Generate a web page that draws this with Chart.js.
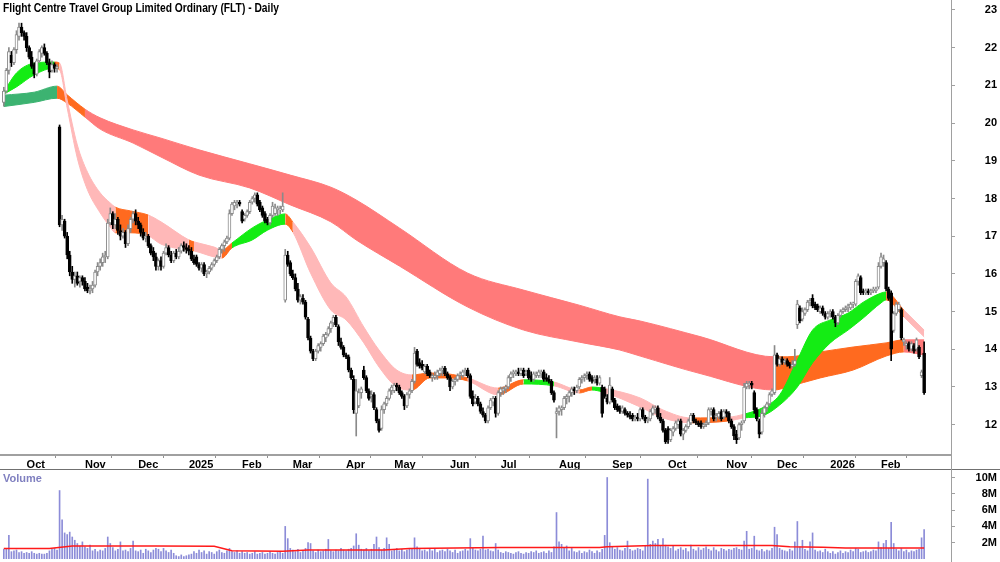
<!DOCTYPE html>
<html>
<head>
<meta charset="utf-8">
<script src="https://cdn.jsdelivr.net/npm/chart.js@4.4.1/dist/chart.umd.min.js"></script>
<style>
  body { margin: 0; background: #fff; width: 1000px; height: 562px; overflow: hidden; position: relative; font-family: "Liberation Sans", Arial, sans-serif; }
  #pwrap { position: absolute; left: 0; top: 0; width: 1000px; height: 470px; }
  #vwrap { position: absolute; left: 0; top: 470px; width: 1000px; height: 92px; }
  #title { position: absolute; left: 3px; top: 0px; font-weight: bold; font-size: 13px; color: #000; white-space: nowrap; transform: scaleX(0.79); transform-origin: 0 0; z-index: 2; }
  #vlab { position: absolute; left: 3px; top: 472px; font-weight: bold; font-size: 11px; color: #8080c0; z-index: 2; }
  #sep { position: absolute; left: 0; top: 469px; width: 1000px; height: 1px; background: #707070; }
  #vline { position: absolute; left: 951px; top: 0; width: 1px; height: 562px; background: #a0a0a0; }
</style>
</head>
<body>
<div id="pwrap"><canvas id="pc" width="1000" height="470"></canvas></div>
<div id="vwrap"><canvas id="vc" width="1000" height="92"></canvas></div>
<div id="sep"></div>
<div id="vline"></div>
<div id="title">Flight Centre Travel Group Limited Ordinary (FLT) - Daily</div>
<div id="vlab">Volume</div>
<script>
// daily candles, Sep 2024 .. Feb 2026 (index 0 = first trading day shown)
const open = [
  20.55, 20.85, 21.4, 21.8, 21.6, 21.95, 22.3, 22.55, 22.4,
  22.3, 22.0, 21.75, 21.55, 21.3, 21.65, 21.85, 22.0, 21.85, 21.6, 21.4, 21.55, 21.45, 19.9, 17.3, 17.4, 17.0, 16.5, 16.05, 15.85, 15.95, 15.8, 15.9,
  15.8, 15.65, 15.55, 15.6, 15.7, 16.05, 16.2, 16.3, 16.45, 16.45, 17.35, 17.6, 17.3, 17.45, 17.15, 17.0, 17.1, 16.8, 17.2, 17.45, 17.6,
  17.4, 17.3, 17.1, 16.95, 17.0, 16.75, 16.6, 16.45, 16.2, 16.35, 16.2, 16.55, 16.7, 16.5, 16.35, 16.55, 16.45, 16.6, 16.75, 16.7,
  16.65, 16.6, 16.4, 16.45, 16.25, 16.15, 16.25, 16.0, 16.05, 16.15, 16.25, 16.35, 16.45, 16.65, 16.75, 16.85, 16.95, 17.6, 17.8, 17.85, 17.9,
  17.65, 17.45, 17.55, 17.65, 17.9, 18.0, 18.1, 17.9, 17.75, 17.6, 17.45, 17.35, 17.55, 17.6, 17.7, 17.7, 17.7, 15.3, 16.5, 16.3,
  16.0, 15.9, 15.6, 15.3, 15.35, 15.25, 14.8, 14.3, 13.95, 13.75, 13.95, 14.05, 14.15, 14.3, 14.4, 14.55, 14.7, 14.85, 14.6, 14.2, 14.05,
  13.85, 13.8, 13.45, 13.2, 12.3, 12.5, 12.85, 13.45, 13.25, 12.9, 12.75, 12.8, 12.4, 12.1, 11.9, 12.4, 12.55, 12.7, 12.9,
  12.9, 13.05, 13.0, 12.85, 12.75, 12.5, 12.8, 12.9, 13.15, 13.95, 13.65, 13.6, 13.4, 13.55, 13.4, 13.25, 13.25, 13.3, 13.35, 13.45, 13.5, 13.35,
  13.25, 13.0, 13.15, 13.2, 13.3, 13.3, 13.4, 13.45, 13.3, 12.75, 12.6, 12.7, 12.55, 12.35, 12.25, 12.1, 12.45, 12.6, 12.7, 12.3,
  12.85, 12.9, 12.95, 13.0, 13.25, 13.35, 13.35, 13.4, 13.35, 13.45, 13.35, 13.45, 13.3, 13.2, 13.3, 13.3, 13.35, 13.4, 13.25, 13.2, 13.15, 12.85, 12.3,
  12.35, 12.4, 12.45, 12.7, 12.75, 12.85, 12.95, 12.9, 13.0, 13.2, 13.25, 13.3, 13.35, 13.25, 13.2, 13.2, 13.1, 13.0, 12.95, 12.7, 12.6,
  12.95, 12.65, 12.5, 12.45, 12.35, 12.4, 12.3, 12.25, 12.25, 12.15, 12.2, 12.15, 12.4, 12.2, 12.1, 12.15, 12.3, 12.4, 12.45, 12.2, 12.1, 11.85,
  11.9, 11.6, 11.8, 11.9, 12.0, 12.1, 11.75, 11.85, 11.95, 12.05, 12.25, 12.1, 12.05, 12.05, 11.95, 12.0, 12.05, 12.35, 12.4, 12.2, 12.2, 12.35, 12.2,
  12.35, 12.3, 12.1, 11.95, 11.75, 11.65, 12.0, 12.1, 13.0, 13.05, 13.1, 12.85, 12.4, 12.1, 11.8, 12.3, 12.45, 12.55, 12.8, 12.85,
  13.85, 13.6, 13.75, 13.65, 13.7, 13.6, 13.55, 13.6, 14.65, 15.1, 14.8, 14.95, 15.05, 15.25, 15.35, 15.2, 15.15, 15.0, 15.1, 14.95, 14.85,
  14.95, 15.0, 14.85, 14.7, 14.9, 15.0, 15.05, 15.1, 15.1, 15.2, 15.2, 15.8, 15.9, 15.55, 15.5, 15.55, 15.5, 15.55, 15.55, 15.65,
  16.2, 16.3, 16.3, 15.6, 15.5, 14.5, 14.95, 15.05, 15.05, 14.2, 14.1, 14.15, 14.0, 14.1, 14.0, 14.05, 13.3, 13.9
];
const high = [
  20.95, 21.45, 22.0, 21.9, 22.0, 22.45, 22.65, 22.65, 22.45,
  22.4, 22.05, 21.9, 21.6, 21.7, 21.95, 22.05, 22.1, 21.9, 21.7, 21.65, 21.6, 21.55, 19.95, 17.55, 17.45, 17.1, 16.6, 16.2, 16.05, 16.05, 15.95, 15.95,
  15.9, 15.75, 15.7, 15.8, 16.1, 16.3, 16.4, 16.55, 16.6, 17.45, 17.75, 17.65, 17.6, 17.5, 17.3, 17.2, 17.15, 17.3, 17.5, 17.65, 17.7,
  17.5, 17.35, 17.2, 17.1, 17.05, 16.8, 16.7, 16.55, 16.4, 16.45, 16.6, 16.8, 16.75, 16.6, 16.6, 16.65, 16.7, 16.8, 16.85, 16.8,
  16.75, 16.7, 16.5, 16.5, 16.3, 16.3, 16.3, 16.1, 16.2, 16.3, 16.4, 16.5, 16.7, 16.8, 16.9, 17.0, 17.7, 17.9, 17.95, 17.95, 17.95,
  17.7, 17.6, 17.7, 17.95, 18.05, 18.15, 18.15, 17.95, 17.8, 17.65, 17.5, 17.6, 17.9, 17.85, 17.8, 17.8, 18.15, 16.65, 16.6, 16.35,
  16.1, 16.0, 15.75, 15.45, 15.45, 15.3, 14.85, 14.35, 14.0, 14.0, 14.15, 14.2, 14.4, 14.45, 14.6, 14.75, 14.9, 14.9, 14.65, 14.3, 14.1,
  13.9, 13.85, 13.5, 13.3, 13.2, 12.95, 13.0, 13.55, 13.3, 12.95, 12.9, 12.85, 12.45, 12.15, 12.5, 12.6, 12.75, 12.95, 13.05,
  13.1, 13.1, 13.05, 12.9, 12.8, 12.85, 12.95, 13.2, 14.05, 14.0, 13.75, 13.7, 13.6, 13.6, 13.45, 13.35, 13.4, 13.45, 13.5, 13.55, 13.55, 13.4,
  13.3, 13.2, 13.25, 13.35, 13.4, 13.45, 13.5, 13.5, 13.35, 12.9, 12.8, 12.75, 12.6, 12.45, 12.3, 12.5, 12.7, 12.75, 12.75, 12.9,
  13.0, 13.0, 13.05, 13.3, 13.4, 13.45, 13.45, 13.5, 13.5, 13.5, 13.45, 13.5, 13.4, 13.4, 13.4, 13.45, 13.45, 13.45, 13.35, 13.3, 13.2, 12.9, 12.45,
  12.5, 12.5, 12.75, 12.8, 12.9, 13.0, 13.0, 13.05, 13.25, 13.3, 13.35, 13.4, 13.4, 13.3, 13.3, 13.3, 13.3, 13.05, 13.0, 12.8, 13.25,
  13.0, 12.7, 12.55, 12.5, 12.5, 12.45, 12.35, 12.35, 12.3, 12.25, 12.3, 12.45, 12.45, 12.25, 12.2, 12.4, 12.5, 12.5, 12.5, 12.3, 12.15, 11.9,
  11.95, 11.9, 11.95, 12.1, 12.15, 12.15, 11.9, 12.0, 12.15, 12.3, 12.3, 12.15, 12.1, 12.1, 12.05, 12.1, 12.45, 12.45, 12.45, 12.3, 12.35, 12.4, 12.4,
  12.4, 12.35, 12.15, 12.0, 11.85, 12.05, 12.1, 13.1, 13.15, 13.15, 13.15, 12.9, 12.45, 12.15, 12.4, 12.5, 12.6, 12.85, 12.95, 14.1,
  13.9, 13.8, 13.8, 13.75, 13.75, 13.65, 13.7, 14.0, 15.3, 15.15, 15.1, 15.1, 15.3, 15.35, 15.45, 15.25, 15.2, 15.15, 15.15, 15.0, 15.0,
  15.05, 15.05, 14.9, 14.95, 15.05, 15.1, 15.15, 15.2, 15.25, 15.25, 15.85, 16.0, 15.95, 15.6, 15.6, 15.6, 15.6, 15.65, 15.65, 16.3,
  16.55, 16.5, 16.35, 15.65, 15.55, 15.0, 15.25, 15.25, 15.1, 14.3, 14.2, 14.2, 14.2, 14.15, 14.3, 14.1, 13.45, 14.2
];
const low = [
  20.45, 20.8, 21.3, 21.5, 21.55, 21.85, 22.2, 22.3, 22.2,
  21.9, 21.7, 21.45, 21.2, 21.25, 21.6, 21.75, 21.8, 21.55, 21.2, 21.35, 21.35, 21.35, 17.25, 17.15, 16.95, 16.4, 15.95, 15.75, 15.65, 15.7, 15.65, 15.7,
  15.55, 15.5, 15.47, 15.5, 15.65, 15.95, 16.1, 16.2, 16.3, 16.4, 17.3, 17.2, 17.2, 17.05, 16.9, 16.95, 16.7, 16.75, 17.1, 17.35, 17.3,
  17.2, 17.0, 16.9, 16.85, 16.7, 16.5, 16.35, 16.1, 16.1, 16.1, 16.15, 16.5, 16.45, 16.3, 16.3, 16.4, 16.4, 16.55, 16.6, 16.55,
  16.5, 16.35, 16.25, 16.2, 16.1, 16.05, 15.95, 15.9, 16.0, 16.1, 16.2, 16.3, 16.4, 16.55, 16.6, 16.8, 16.9, 17.55, 17.7, 17.75, 17.8,
  17.35, 17.4, 17.5, 17.6, 17.85, 17.9, 17.8, 17.65, 17.5, 17.35, 17.3, 17.3, 17.5, 17.55, 17.55, 17.6, 17.65, 15.25, 16.2, 15.95,
  15.85, 15.55, 15.25, 15.2, 15.2, 14.8, 14.25, 13.9, 13.7, 13.7, 13.9, 13.95, 14.1, 14.2, 14.35, 14.45, 14.6, 14.6, 14.1, 14.0, 13.8,
  13.75, 13.4, 13.2, 12.3, 11.7, 12.45, 12.7, 13.2, 12.85, 12.65, 12.6, 12.4, 12.05, 11.8, 11.85, 12.3, 12.5, 12.65, 12.8,
  12.85, 12.9, 12.8, 12.7, 12.4, 12.45, 12.7, 12.85, 13.1, 13.55, 13.5, 13.45, 13.35, 13.3, 13.25, 13.15, 13.2, 13.2, 13.3, 13.3, 13.3, 13.2,
  12.9, 12.95, 13.05, 13.15, 13.2, 13.25, 13.3, 13.25, 12.7, 12.5, 12.55, 12.5, 12.3, 12.2, 12.05, 12.05, 12.4, 12.5, 12.2, 12.25,
  12.75, 12.8, 12.85, 12.95, 13.15, 13.25, 13.3, 13.3, 13.3, 13.25, 13.3, 13.2, 13.15, 13.15, 13.25, 13.25, 13.25, 13.15, 13.15, 13.1, 12.8, 12.6, 11.65,
  12.25, 12.25, 12.4, 12.55, 12.6, 12.75, 12.8, 12.85, 12.95, 13.1, 13.15, 13.2, 13.15, 13.1, 13.1, 13.05, 13.05, 12.2, 12.7, 12.55, 12.55,
  12.6, 12.4, 12.35, 12.3, 12.3, 12.25, 12.2, 12.15, 12.1, 12.1, 12.1, 12.1, 12.15, 12.05, 12.05, 12.1, 12.25, 12.3, 12.15, 12.05, 11.8, 11.5,
  11.5, 11.55, 11.7, 11.85, 11.9, 11.7, 11.6, 11.8, 11.9, 12.0, 12.05, 12.0, 11.95, 11.9, 11.9, 11.95, 12.0, 12.25, 12.1, 12.1, 12.15, 12.1, 12.15,
  12.2, 12.05, 11.9, 11.6, 11.5, 11.6, 11.85, 12.05, 12.95, 12.95, 12.95, 12.3, 12.1, 11.65, 11.75, 12.2, 12.35, 12.5, 12.75, 12.8,
  13.55, 13.55, 13.6, 13.6, 13.55, 13.5, 13.5, 13.55, 14.55, 14.7, 14.75, 14.9, 15.0, 15.15, 15.1, 15.05, 15.0, 14.95, 14.9, 14.8, 14.8,
  14.85, 14.8, 14.6, 14.65, 14.85, 14.95, 15.0, 15.0, 15.05, 15.1, 15.15, 15.7, 15.45, 15.45, 15.45, 15.45, 15.45, 15.5, 15.5, 15.6,
  16.15, 16.2, 15.55, 15.3, 13.7, 14.45, 14.9, 15.0, 14.25, 14.1, 14.0, 13.95, 13.95, 13.9, 13.95, 13.75, 13.25, 12.8
];
const close = [
  20.85, 21.4, 21.9, 21.6, 21.95, 22.35, 22.55, 22.4, 22.3,
  22.0, 21.75, 21.5, 21.3, 21.65, 21.9, 22.0, 21.85, 21.6, 21.35, 21.55, 21.45, 21.5, 17.3, 17.45, 17.0, 16.5, 16.05, 15.85, 15.95, 15.75, 15.9, 15.8,
  15.6, 15.55, 15.6, 15.7, 16.05, 16.2, 16.3, 16.45, 16.5, 17.35, 17.6, 17.3, 17.45, 17.15, 17.0, 17.1, 16.8, 17.2, 17.45, 17.6, 17.4,
  17.3, 17.1, 16.95, 17.0, 16.75, 16.55, 16.45, 16.2, 16.35, 16.2, 16.55, 16.7, 16.5, 16.35, 16.55, 16.45, 16.6, 16.75, 16.7, 16.65,
  16.6, 16.4, 16.3, 16.25, 16.15, 16.25, 16.0, 16.05, 16.15, 16.25, 16.35, 16.45, 16.65, 16.75, 16.85, 16.95, 17.6, 17.85, 17.9, 17.9, 17.85,
  17.4, 17.55, 17.65, 17.9, 18.0, 18.1, 17.85, 17.7, 17.55, 17.4, 17.35, 17.55, 17.8, 17.75, 17.75, 17.7, 17.8, 16.5, 16.25, 16.0,
  15.9, 15.6, 15.3, 15.4, 15.25, 14.85, 14.3, 13.95, 13.75, 13.95, 14.1, 14.15, 14.35, 14.4, 14.55, 14.7, 14.85, 14.65, 14.2, 14.05, 13.85,
  13.8, 13.45, 13.25, 12.4, 12.9, 12.85, 12.95, 13.25, 12.9, 12.7, 12.8, 12.45, 12.1, 11.85, 12.4, 12.55, 12.7, 12.9, 13.0,
  13.05, 13.0, 12.85, 12.75, 12.5, 12.8, 12.9, 13.15, 13.9, 13.6, 13.55, 13.5, 13.55, 13.35, 13.3, 13.3, 13.3, 13.4, 13.45, 13.5, 13.35, 13.25,
  13.0, 13.15, 13.2, 13.3, 13.35, 13.4, 13.45, 13.3, 12.75, 12.55, 12.7, 12.55, 12.35, 12.25, 12.1, 12.45, 12.65, 12.7, 12.3, 12.85,
  12.95, 12.95, 13.0, 13.25, 13.35, 13.4, 13.4, 13.35, 13.45, 13.3, 13.4, 13.25, 13.2, 13.35, 13.35, 13.4, 13.4, 13.2, 13.2, 13.15, 12.85, 12.65, 12.35,
  12.45, 12.45, 12.7, 12.75, 12.85, 12.95, 12.9, 13.0, 13.2, 13.25, 13.3, 13.35, 13.2, 13.15, 13.25, 13.1, 13.25, 12.3, 12.75, 12.6, 13.05,
  12.65, 12.45, 12.4, 12.35, 12.45, 12.3, 12.25, 12.2, 12.15, 12.2, 12.15, 12.4, 12.2, 12.1, 12.15, 12.35, 12.45, 12.45, 12.2, 12.1, 11.85, 11.55,
  11.6, 11.85, 11.9, 12.05, 12.1, 11.75, 11.85, 11.95, 12.1, 12.25, 12.1, 12.05, 12.0, 11.95, 12.0, 12.05, 12.4, 12.4, 12.15, 12.25, 12.3, 12.15, 12.35,
  12.3, 12.1, 11.95, 11.7, 11.6, 12.0, 12.05, 13.0, 13.1, 13.1, 13.05, 12.4, 12.15, 11.75, 12.3, 12.45, 12.55, 12.8, 12.9, 13.85,
  13.6, 13.75, 13.65, 13.7, 13.6, 13.55, 13.6, 13.7, 15.2, 14.75, 15.0, 15.05, 15.25, 15.3, 15.15, 15.1, 15.05, 15.1, 14.95, 14.85, 14.95,
  15.0, 14.85, 14.7, 14.9, 15.0, 15.05, 15.1, 15.15, 15.2, 15.2, 15.8, 15.95, 15.5, 15.5, 15.55, 15.5, 15.55, 15.6, 15.6, 16.2,
  16.45, 16.4, 15.6, 15.35, 14.0, 14.95, 15.2, 15.2, 14.3, 14.25, 14.15, 14.0, 14.15, 13.95, 14.25, 13.8, 13.4, 12.85
];
// volume in millions
const volume = [
  1.2, 1.3, 2.9, 0.9, 1.0, 1.1, 0.8, 0.9, 0.7,
  0.8, 0.7, 0.9, 0.7, 0.6, 0.7, 0.6, 0.6, 0.7, 1.0, 1.2, 1.3, 1.1, 8.4, 4.8, 3.2, 3.0, 3.3, 2.7, 2.3, 1.9, 1.6, 2.1,
  1.5, 1.3, 1.7, 1.0, 1.2, 0.9, 1.1, 1.0, 1.3, 2.7, 1.9, 1.4, 1.0, 1.2, 2.1, 1.0, 1.1, 0.9, 1.3, 2.2, 1.0,
  0.9, 1.1, 0.7, 1.2, 1.0, 0.8, 1.1, 1.3, 1.2, 0.9, 1.3, 1.0, 0.8, 1.1, 0.7, 0.4, 0.3, 0.5, 0.3, 0.4,
  0.5, 0.6, 0.9, 0.7, 1.1, 0.8, 1.0, 0.6, 0.9, 0.8, 0.6, 0.9, 1.1, 0.8, 0.7, 1.0, 1.3, 0.9, 0.8, 1.0, 0.7,
  0.9, 0.7, 0.8, 0.6, 0.7, 0.9, 0.6, 0.7, 0.8, 0.6, 0.7, 0.9, 0.7, 0.6, 0.8, 0.9, 0.7, 4.0, 2.5, 1.3,
  1.1, 0.9, 1.2, 0.8, 1.0, 1.3, 2.0, 1.9, 1.0, 0.8, 1.1, 0.9, 1.0, 1.2, 2.4, 1.0, 0.9, 1.1, 1.0, 1.3, 1.1,
  1.0, 1.2, 1.3, 1.6, 3.1, 1.7, 1.2, 1.1, 1.3, 1.0, 1.2, 1.8, 2.7, 1.4, 1.1, 1.3, 2.6, 1.8, 1.0,
  1.1, 1.3, 1.0, 1.2, 0.9, 1.1, 1.3, 1.2, 2.6, 1.5, 1.2, 1.0, 1.1, 0.9, 1.2, 1.0, 1.3, 0.8, 1.0, 1.1, 0.9, 1.2,
  1.0, 0.8, 1.1, 0.7, 0.9, 1.0, 1.2, 1.0, 2.5, 1.3, 1.1, 1.0, 1.2, 2.8, 1.1, 1.2, 1.0, 0.9, 1.9, 1.1,
  0.8, 0.7, 0.9, 0.8, 0.7, 0.6, 0.8, 0.9, 0.7, 0.6, 0.8, 0.7, 0.9, 0.8, 1.0, 0.7, 0.8, 0.9, 0.7, 1.0, 0.8, 1.5, 5.7,
  2.1, 1.8, 1.3, 1.6, 1.0, 1.4, 0.9, 0.8, 1.0, 0.7, 0.9, 0.8, 1.1, 0.9, 0.7, 1.0, 0.8, 1.2, 2.9, 10.0, 2.0,
  1.5, 1.2, 1.4, 1.1, 1.0, 1.3, 2.2, 1.2, 1.0, 1.1, 1.3, 1.2, 1.0, 1.6, 9.8, 1.8, 2.2, 1.9, 2.4, 1.6, 2.5, 1.7,
  1.5, 1.3, 1.6, 1.0, 1.2, 1.4, 1.1, 1.3, 0.9, 1.7, 1.2, 1.0, 1.4, 1.1, 1.3, 1.5, 1.2, 1.0, 1.4, 1.1, 0.9, 1.3, 1.2,
  1.0, 1.2, 1.1, 1.3, 1.4, 1.2, 1.1, 2.2, 3.4, 1.2, 1.3, 2.8, 1.1, 1.0, 1.2, 0.9, 1.1, 1.0, 1.3, 3.9,
  3.0, 1.3, 1.1, 1.0, 0.9, 1.2, 1.0, 2.1, 4.6, 1.5, 2.3, 1.2, 1.0, 2.1, 3.2, 1.1, 0.9, 1.0, 0.8, 1.2, 0.9,
  0.7, 0.9, 0.6, 0.8, 1.0, 0.7, 0.9, 0.8, 1.1, 0.9, 1.3, 1.2, 0.8, 0.9, 1.0, 0.8, 0.9, 1.1, 1.0, 2.1,
  1.4, 1.9, 2.3, 1.3, 4.5, 1.9, 1.2, 1.0, 1.3, 0.9, 1.1, 0.8, 1.0, 0.9, 1.1, 1.2, 2.6, 3.6
];
// volume moving average, read at a few points
const volMaIdx = [0, 18, 27, 60, 83, 90, 110, 120, 150, 160, 196, 235, 238, 256, 303, 310, 323, 332, 363];
const volMaVal = [1.3, 1.3, 1.6, 1.6, 1.55, 1.0, 0.95, 1.1, 1.1, 1.3, 1.4, 1.4, 1.5, 1.65, 1.65, 1.5, 1.45, 1.35, 1.35];

// short-term ribbon edges (sampled) and colour of each stretch
const stIdx = [0, 5, 12, 20, 22, 25, 29, 33, 38, 42, 44, 50, 57, 62, 73, 75, 83, 86, 90, 98, 104, 111, 114, 121, 129, 135, 142, 148, 155, 161, 168, 175, 183, 195, 205, 217, 227, 232, 236, 251, 260, 271, 286, 292, 299, 306, 313, 319, 326, 333, 339, 346, 348, 355, 363];
const stHi = [20.83, 21.33, 21.59, 21.62, 21.59, 20.61, 19.42, 18.70, 18.15, 17.88, 17.77, 17.67, 17.56, 17.38, 16.90, 16.85, 16.71, 16.63, 16.82, 17.22, 17.43, 17.59, 17.38, 16.71, 15.76, 15.39, 14.59, 13.98, 13.45, 13.32, 13.37, 13.35, 13.24, 12.97, 13.19, 13.13, 12.92, 13.0, 12.97, 12.71, 12.39, 12.18, 12.20, 12.28, 12.44, 12.79, 13.72, 14.51, 14.78, 14.96, 15.25, 15.49, 15.52, 15.04, 14.51];
const stLo = [20.77, 20.96, 21.28, 21.46, 21.41, 20.40, 19.07, 18.23, 17.62, 17.24, 17.09, 17.09, 17.01, 16.79, 16.63, 16.61, 16.45, 16.42, 16.69, 16.90, 17.16, 17.32, 17.11, 16.02, 15.04, 14.78, 14.17, 13.53, 13.0, 12.92, 13.24, 13.24, 13.16, 12.79, 13.08, 13.03, 12.84, 12.92, 12.87, 12.47, 12.18, 12.05, 12.10, 12.18, 12.23, 12.52, 13.0, 13.64, 14.17, 14.51, 14.83, 15.23, 15.31, 14.86, 14.33];
const stCol = ['g', 'g', 'g', 'or', 'pk', 'pk', 'pk', 'pk', 'pk', 'pk', 'or', 'or', 'pk', 'pk', 'or', 'pk', 'pk', 'or', 'g', 'g', 'g', 'or', 'pk', 'pk', 'pk', 'pk', 'pk', 'pk', 'pk', 'or', 'or', 'or', 'pk', 'or', 'g', 'pk', 'or', 'g', 'pk', 'pk', 'pk', 'or', 'pk', 'g', 'g', 'g', 'g', 'g', 'g', 'g', 'g', 'g', 'or', 'pk', 'pk'];

// long-term ribbon edges
const ltIdx = [0, 12, 21, 25, 32, 38, 51, 62, 77, 97, 113, 129, 139, 156, 183, 205, 227, 243, 251, 275, 304, 309, 322, 335, 348, 355, 363];
const ltHi = [20.74, 20.82, 20.98, 20.75, 20.37, 20.14, 19.82, 19.6, 19.29, 18.92, 18.62, 18.3, 17.96, 17.22, 16.02, 15.57, 15.17, 14.86, 14.75, 14.33, 13.8, 13.8, 13.93, 14.06, 14.17, 14.25, 14.25];
const ltLo = [20.44, 20.55, 20.66, 20.53, 20.16, 19.84, 19.47, 19.1, 18.62, 18.28, 17.83, 17.38, 16.9, 16.21, 15.12, 14.51, 14.19, 13.98, 13.82, 13.35, 12.92, 13.0, 13.24, 13.45, 13.82, 13.93, 13.85];
const ltCol = ['dg', 'dg', 'or', 'or', 'rd', 'rd', 'rd', 'rd', 'rd', 'rd', 'rd', 'rd', 'rd', 'rd', 'rd', 'rd', 'rd', 'rd', 'rd', 'rd', 'or', 'or', 'or', 'or', 'or', 'rd', 'rd'];

// axis ticks
const monthIdx = [9, 32, 53, 73, 94, 114, 135, 154, 176, 196, 219, 240, 262, 285, 305, 326, 346];
const monthLabels = ['Oct', 'Nov', 'Dec', '2025', 'Feb', 'Mar', 'Apr', 'May', 'Jun', 'Jul', 'Aug', 'Sep', 'Oct', 'Nov', 'Dec', '2026', 'Feb'];
const priceTicks = [12, 13, 14, 15, 16, 17, 18, 19, 20, 21, 22, 23];
const volTicks = [2, 4, 6, 8, 10];

const palette = { dg: '#3cb371', g: '#14ec14', or: '#ff6a1f', rd: '#ff7a7a', pk: '#ffb8b8' };
const upCol = '#8a8a8a', dnCol = '#000000';
const X_MIN = -1.5, X_MAX = 373.6;

Chart.defaults.font.family = '"Liberation Sans", Arial, sans-serif';
Chart.defaults.animation = false;

if (![high, low, close, volume].every(a => a.length === open.length)) console.warn('length mismatch');

const isUp = close.map((c, i) => c >= open[i]);

function band(idx, hi, lo, col, order) {
  const seg = ctx => palette[col[ctx.p0DataIndex]];
  const common = {
    type: 'line', pointRadius: 0, borderWidth: 1, cubicInterpolationMode: 'monotone',
    segment: { borderColor: seg, backgroundColor: seg }
  };
  return [
    { ...common, data: idx.map((x, k) => ({ x, y: hi[k] })), fill: '+1', backgroundColor: palette[col[0]], borderColor: palette[col[0]], order },
    { ...common, data: idx.map((x, k) => ({ x, y: lo[k] })), fill: false, borderColor: palette[col[0]], order: order + 1 }
  ];
}

const noPad = s => { s.paddingTop = 0; s.paddingBottom = 0; s.paddingLeft = 0; s.paddingRight = 0; };

new Chart(document.getElementById('pc'), {
  type: 'bar',
  data: {
    datasets: [
      {
        type: 'bar', data: open.map((o, i) => ({ x: i, y: [o, close[i]] })),
        backgroundColor: isUp.map(u => u ? '#ffffff' : dnCol),
        borderColor: isUp.map(u => u ? upCol : dnCol),
        borderWidth: 1, borderSkipped: false, barThickness: 3, grouped: false, minBarLength: 1, order: 0
      },
      {
        type: 'bar', data: high.map((h, i) => ({ x: i, y: [low[i], h] })),
        backgroundColor: isUp.map(u => u ? upCol : dnCol),
        barThickness: 1, grouped: false, order: 1
      },
      ...band(stIdx, stHi, stLo, stCol, 2),
      ...band(ltIdx, ltHi, ltLo, ltCol, 4)
    ]
  },
  options: {
    responsive: false,
    devicePixelRatio: 1,
    layout: { padding: { left: 0, right: 3, top: 0, bottom: 0 } },
    plugins: { legend: { display: false }, tooltip: { enabled: false } },
    scales: {
      x: {
        type: 'linear', min: X_MIN, max: X_MAX, offset: false,
        afterBuildTicks: s => { s.ticks = monthIdx.map(v => ({ value: v })); },
        afterFit: s => { s.height = 15; noPad(s); },
        ticks: {
          autoSkip: false, maxRotation: 0, align: 'start', padding: 0,
          color: '#000', font: { size: 11, weight: 'bold' },
          callback: v => monthLabels[monthIdx.indexOf(v)]
        },
        grid: { drawOnChartArea: false, tickLength: 3, color: '#909090' },
        border: { color: '#a0a0a0', width: 2 }
      },
      y: {
        position: 'right', min: 11.196, max: 23.265,
        afterBuildTicks: s => { s.ticks = priceTicks.map(v => ({ value: v })); },
        afterFit: s => { s.width = 46; noPad(s); },
        ticks: { crossAlign: 'far', padding: 30, color: '#000', font: { size: 11, weight: 'bold' } },
        grid: { drawOnChartArea: false, tickLength: 4, color: '#a0a0a0' },
        border: { display: false }
      }
    }
  }
});

new Chart(document.getElementById('vc'), {
  type: 'bar',
  data: {
    datasets: [
      {
        type: 'line', data: volMaIdx.map((x, k) => ({ x, y: volMaVal[k] })),
        borderColor: '#ff1a1a', borderWidth: 1.5, pointRadius: 0, fill: false, order: 0
      },
      {
        type: 'bar', data: volume.map((v, i) => ({ x: i, y: v })),
        backgroundColor: '#8c8cd8', barThickness: 1, grouped: false, order: 1
      }
    ]
  },
  options: {
    responsive: false,
    devicePixelRatio: 1,
    layout: { padding: { left: 0, right: 3, top: 0, bottom: 3 } },
    plugins: { legend: { display: false }, tooltip: { enabled: false } },
    scales: {
      x: { type: 'linear', min: X_MIN, max: X_MAX, offset: false, display: false },
      y: {
        position: 'right', min: 0, max: 10.92,
        afterBuildTicks: s => { s.ticks = volTicks.map(v => ({ value: v })); },
        afterFit: s => { s.width = 46; noPad(s); },
        ticks: { crossAlign: 'far', padding: 22, color: '#000', font: { size: 11, weight: 'bold' }, callback: v => v + 'M' },
        grid: { drawOnChartArea: false, tickLength: 4, color: '#a0a0a0' },
        border: { display: false }
      }
    }
  }
});
</script>
</body>
</html>
